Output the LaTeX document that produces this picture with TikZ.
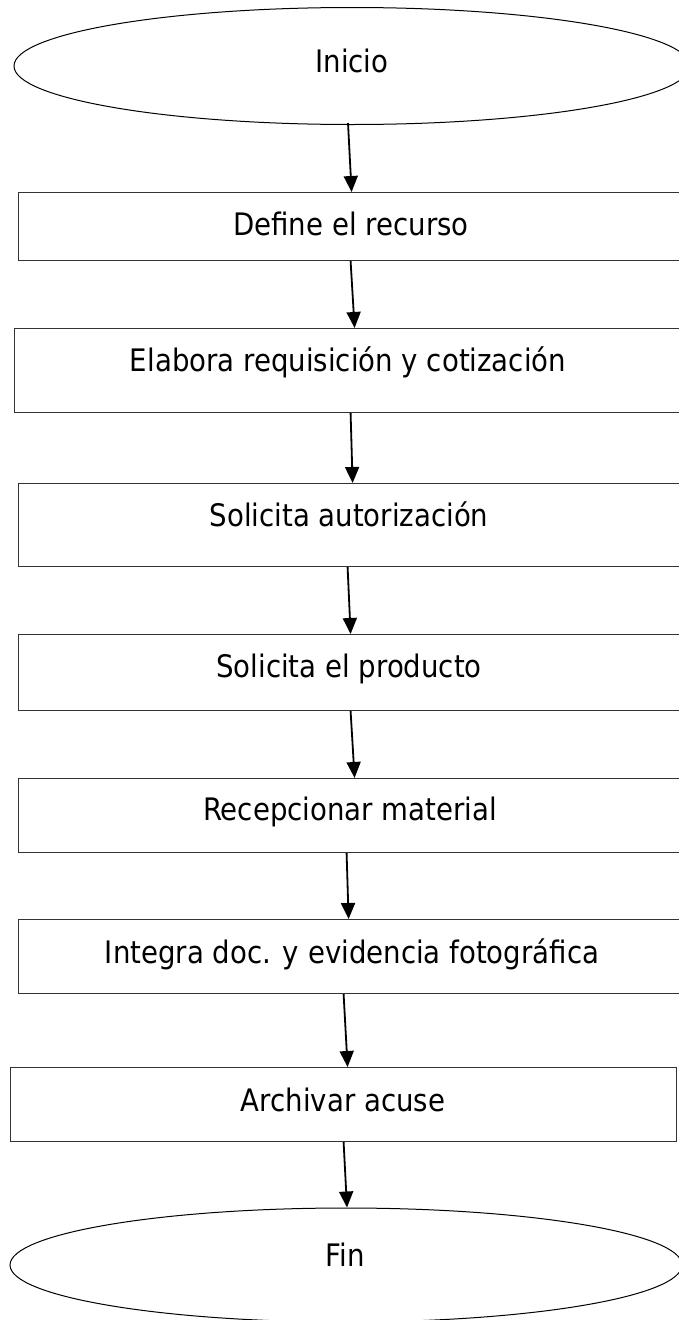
\documentclass[tikz,border=0pt]{standalone}
\usepackage{fontspec}
\setmainfont{DejaVu Sans}[FakeStretch=0.89]
\usetikzlibrary{shapes.geometric,arrows.meta}
\tikzset{
  boxshape/.style={draw=black!80, line width=1.2pt, rectangle, inner sep=0pt, anchor=north west},
  ovalshape/.style={draw=black, line width=1pt, ellipse, inner sep=0pt},
  lbl/.style={inner sep=0pt, anchor=base, font=\fontsize{31}{35}\selectfont},
  arr/.style={line width=1.8pt, -{Triangle[width=14pt,length=16pt]}}
}
\begin{document}
\begin{tikzpicture}[x=1pt,y=-1pt]
\useasboundingbox (0,0) rectangle (679,1320);
\fill[white] (0,0) rectangle (679,1320);
\clip (0,0) rectangle (679,1320);
% shapes
\node[ovalshape, minimum width=676pt, minimum height=117pt] (s) at (352,66) {};
\node[boxshape, minimum width=668pt, minimum height=68pt] (b1) at (18,192) {};
\node[boxshape, minimum width=672pt, minimum height=84pt] (b2) at (14,328) {};
\node[boxshape, minimum width=668pt, minimum height=83pt] (b3) at (18,483) {};
\node[boxshape, minimum width=668pt, minimum height=76pt] (b4) at (18,634) {};
\node[boxshape, minimum width=668pt, minimum height=74pt] (b5) at (18,778) {};
\node[boxshape, minimum width=668pt, minimum height=74pt] (b6) at (18,919) {};
\node[boxshape, minimum width=666pt, minimum height=74pt] (b7) at (10,1067) {};
\node[ovalshape, minimum width=672pt, minimum height=114pt] (f) at (346,1265) {};
% texts (baselines)
\node[lbl] (ts) at (352,72) {Inicio};
\node[lbl] (t1) at (351,235) {Define el recurso};
\node[lbl] (t2) at (348,371) {Elabora requisición y cotización};
\node[lbl] (t3) at (349,526) {Solicita autorización};
\node[lbl] (t4) at (349,677) {Solicita el producto};
\node[lbl] (t5) at (350,820) {Recepcionar material};
\node[lbl] (t6) at (352,963) {Integra doc. y evidencia fotográfica};
\node[lbl] (t7) at (343,1111) {Archivar acuse};
\node[lbl] (tf) at (345,1266) {Fin};
% connectors
\draw[arr] ([xshift=-4pt,yshift=2pt]s.south) -- ([xshift=-1pt]b1.north);
\draw[arr] ([xshift=-2pt]b1.south) -- ([xshift=4pt]b2.north);
\draw[arr] ([xshift=0pt]b2.south) -- ([xshift=0pt]b3.north);
\draw[arr] ([xshift=-5pt]b3.south) -- ([xshift=-2pt]b4.north);
\draw[arr] ([xshift=-2pt]b4.south) -- ([xshift=2pt]b5.north);
\draw[arr] ([xshift=-6pt]b5.south) -- ([xshift=-4pt]b6.north);
\draw[arr] ([xshift=-9pt]b6.south) -- ([xshift=4pt]b7.north);
\draw[arr] ([xshift=0pt]b7.south) -- ([xshift=1pt]f.north);
\end{tikzpicture}
\end{document}
